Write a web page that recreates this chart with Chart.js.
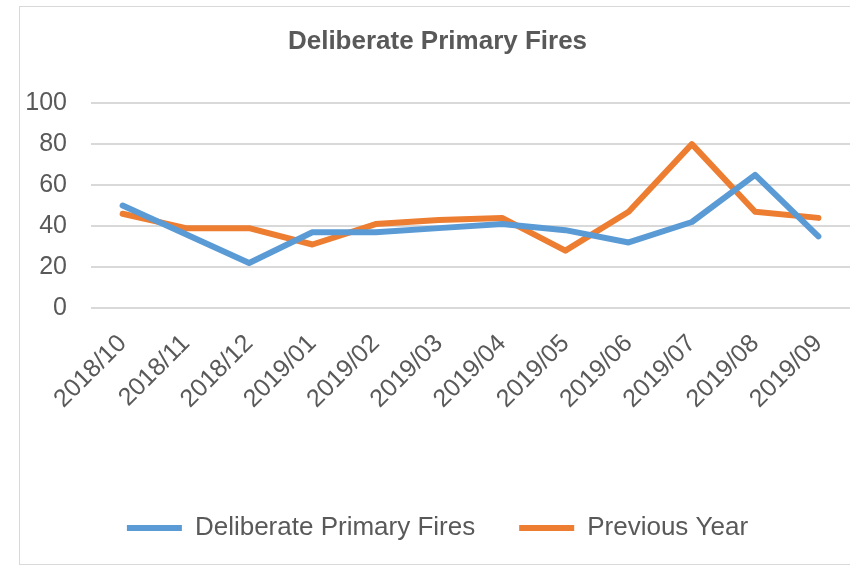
<!DOCTYPE html>
<html>
<head>
<meta charset="utf-8">
<script src="https://cdn.jsdelivr.net/npm/chart.js@4"></script>
<style>
  html, body { margin: 0; padding: 0; background: #fff; overflow: hidden; width: 850px; height: 565px; }
  #frame { position: absolute; left: 19px; top: 6px; width: 900px; height: 557px; border: 1px solid #d9d9d9; }
  #wrap { position: absolute; left: 20px; top: 7px; width: 840px; height: 557px; }
</style>
</head>
<body>
<div id="frame"></div>
<div id="wrap"><canvas id="fires-chart"></canvas></div>
<script>
const months = ['2018/10', '2018/11', '2018/12', '2019/01', '2019/02', '2019/03',
                '2019/04', '2019/05', '2019/06', '2019/07', '2019/08', '2019/09']
const deliberateFires = [50, 36, 22, 37, 37, 39, 41, 38, 32, 42, 65, 35]
const previousYear = [46, 39, 39, 31, 41, 43, 44, 28, 47, 80, 47, 44]
const yTicks = [0, 20, 40, 60, 80, 100]

const textColor = '#595959'
const fontFamily = '"Liberation Sans", Arial, sans-serif'

let ctx = document.getElementById('fires-chart').getContext('2d')

let lineDataset = function(label, data, color) {
    return {
        label: label,
        data: data,
        borderColor: color,
        backgroundColor: color,
        borderWidth: 6,
        borderCapStyle: 'round',
        borderJoinStyle: 'round',
        pointRadius: 0,
        tension: 0,
        fill: false
    }
}

let noPadding = function() {
    return { left: 0, top: 0, right: 0, bottom: 0 }
}

new Chart(ctx, {
    type: 'line',
    data: {
        labels: months,
        datasets: [
            lineDataset('Deliberate Primary Fires', deliberateFires, '#5B9BD5'),
            lineDataset('Previous Year', previousYear, '#ED7D31')
        ]
    },
    options: {
        maintainAspectRatio: false,
        responsive: true,
        animation: false,
        layout: { padding: { left: 5, right: 10, top: 0, bottom: 13 } },
        plugins: {
            title: {
                display: true,
                text: 'Deliberate Primary Fires',
                color: textColor,
                font: { family: fontFamily, size: 26, weight: 'bold' },
                padding: { top: 19, bottom: 46 }
            },
            legend: {
                position: 'bottom',
                labels: {
                    usePointStyle: true,
                    pointStyle: 'line',
                    pointStyleWidth: 55,
                    color: textColor,
                    font: { family: fontFamily, size: 26 },
                    padding: 44
                }
            },
            tooltip: { enabled: false }
        },
        scales: {
            x: {
                offset: true,
                grid: { display: false },
                border: { display: false },
                ticks: {
                    autoSkip: false,
                    minRotation: 45,
                    maxRotation: 45,
                    padding: 13,
                    color: textColor,
                    font: { family: fontFamily, size: 25 }
                },
                afterFit: function(scale) {
                    // rotated labels may hang past the plot on the left, that's fine
                    scale.paddingLeft = 0
                    scale.paddingRight = 0
                    scale.getPadding = noPadding
                    scale.height = 163
                }
            },
            y: {
                min: yTicks[0],
                max: yTicks[yTicks.length - 1],
                grid: { color: '#d9d9d9', lineWidth: 2, drawTicks: false },
                border: { display: false },
                ticks: {
                    stepSize: yTicks[1] - yTicks[0],
                    padding: 24,
                    color: textColor,
                    font: { family: fontFamily, size: 25 }
                },
                afterFit: function(scale) {
                    scale.width = 66
                }
            }
        }
    }
})
</script>
</body>
</html>
